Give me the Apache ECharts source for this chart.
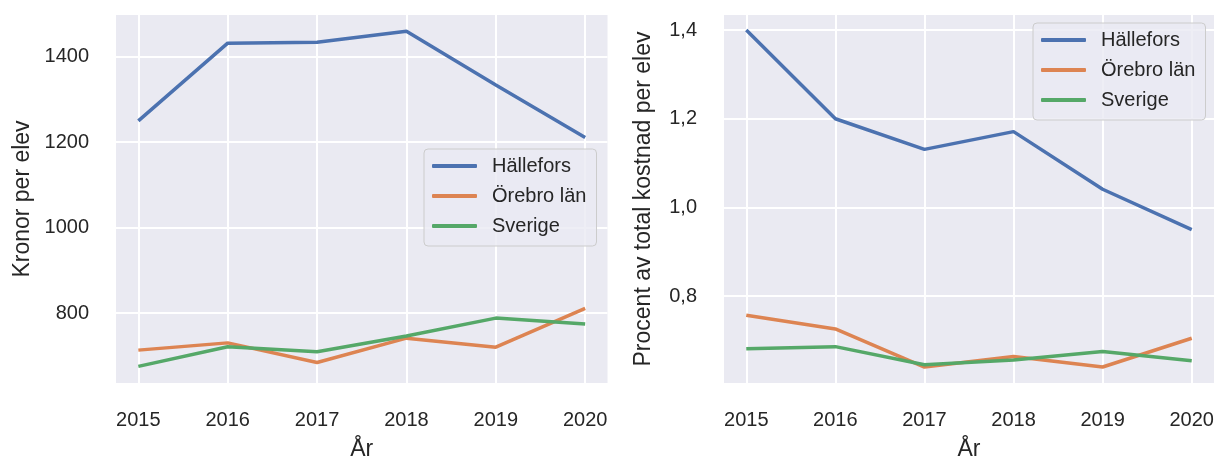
<!DOCTYPE html>
<html style="height: 100%; margin: 0; padding: 0;">
<head>
    <meta charset="utf-8">
    <title>Kostnad per elev</title>
    <script src="https://cdn.jsdelivr.net/npm/echarts@6/dist/echarts.min.js"></script>
    <style>
        body, html {
            height: 100%;
            margin: 0;
            padding: 0;
            background-color: #ffffff;
        }
        #main {
            width: 1217px;
            height: 461px;
        }
    </style>
</head>
<body>
<div id="main"></div>
<script type="text/javascript">
    // data
    var years = [2015, 2016, 2017, 2018, 2019, 2020];
    var seriesNames = ['Hällefors', 'Örebro län', 'Sverige'];

    // left panel: kronor per elev
    var kronorHallefors = [1250, 1432, 1434, 1460, 1334, 1211];
    var kronorOrebro    = [713, 730, 684, 741, 720, 811];
    var kronorSverige   = [675, 721, 709, 746, 788, 774];
    var kronorTicks     = [800, 1000, 1200, 1400];

    // right panel: procent av total kostnad per elev
    var procentHallefors = [1.40, 1.20, 1.131, 1.171, 1.041, 0.95];
    var procentOrebro    = [0.757, 0.726, 0.640, 0.664, 0.640, 0.705];
    var procentSverige   = [0.681, 0.686, 0.645, 0.656, 0.675, 0.654];
    var procentTicks     = [0.8, 1.0, 1.2, 1.4];

    var colors = ['#4c72b0', '#dd8452', '#55a868'];
    var textColor = '#262626';
    var fontFamily = 'Liberation Sans, Arial, sans-serif';

    var myChart = echarts.init(document.getElementById('main'), null, { renderer: 'canvas' });

    function pairs(vals) {
        return years.map(function (y, i) { return [y, vals[i]]; });
    }

    function xAxis(gridIndex) {
        return {
            type: 'value',
            gridIndex: gridIndex,
            min: 2014.75,
            max: 2020.25,
            name: 'År',
            nameLocation: 'middle',
            nameGap: 55,
            nameTextStyle: { color: textColor, fontSize: 23, fontFamily: fontFamily },
            axisLine: { show: false },
            axisTick: { show: false, customValues: years },
            axisLabel: {
                customValues: years,
                formatter: function (v) { return String(v); },
                color: textColor, fontSize: 20, fontFamily: fontFamily, margin: 27
            },
            splitLine: { show: true, lineStyle: { color: '#ffffff', width: 2 } }
        };
    }

    function yAxis(gridIndex, name, min, max, ticks, fmt, gap) {
        return {
            type: 'value',
            gridIndex: gridIndex,
            min: min,
            max: max,
            name: name,
            nameLocation: 'middle',
            nameGap: gap,
            nameTextStyle: { color: textColor, fontSize: 23, fontFamily: fontFamily },
            axisLine: { show: false },
            axisTick: { show: false, customValues: ticks },
            axisLabel: {
                customValues: ticks,
                formatter: fmt,
                color: textColor, fontSize: 20, fontFamily: fontFamily, margin: 27
            },
            splitLine: { show: true, lineStyle: { color: '#ffffff', width: 2 } }
        };
    }

    function lineSeries(name, idx, axisIndex, vals) {
        return {
            type: 'line',
            name: name,
            xAxisIndex: axisIndex,
            yAxisIndex: axisIndex,
            data: pairs(vals),
            showSymbol: false,
            symbol: 'none',
            color: colors[idx],
            lineStyle: { width: 3.5, color: colors[idx] },
            animation: false
        };
    }

    function legend(pos) {
        return {
            left: pos.left,
            top: pos.top,
            orient: 'vertical',
            data: seriesNames.map(function (n) { return { name: n, icon: 'roundRect' }; }),
            itemWidth: 45,
            itemHeight: 4,
            itemGap: 10,
            padding: [7, 10, 10, 8],
            backgroundColor: 'rgba(234,234,242,0.8)',
            borderColor: '#cccccc',
            borderWidth: 1,
            borderRadius: 4,
            textStyle: { color: textColor, fontSize: 20, fontFamily: fontFamily, padding: [0, 0, 0, 10] }
        };
    }

    var option = {
        animation: false,
        grid: [
            { left: 116, top: 15, width: 491.5, height: 368, show: true, backgroundColor: '#eaeaf2',
              borderWidth: 0, outerBoundsMode: 'none', containLabel: false },
            { left: 724, top: 15, width: 490, height: 368, show: true, backgroundColor: '#eaeaf2',
              borderWidth: 0, outerBoundsMode: 'none', containLabel: false }
        ],
        xAxis: [xAxis(0), xAxis(1)],
        yAxis: [
            yAxis(0, 'Kronor per elev', 636, 1498, kronorTicks, function (v) { return String(v); }, 82),
            yAxis(1, 'Procent av total kostnad per elev', 0.604, 1.434, procentTicks,
                function (v) { return v.toFixed(1).replace('.', ','); }, 69)
        ],
        legend: [legend({ left: 424, top: 149 }), legend({ left: 1033, top: 23 })],
        series: [
            lineSeries(seriesNames[0], 0, 0, kronorHallefors),
            lineSeries(seriesNames[1], 1, 0, kronorOrebro),
            lineSeries(seriesNames[2], 2, 0, kronorSverige),
            lineSeries(seriesNames[0], 0, 1, procentHallefors),
            lineSeries(seriesNames[1], 1, 1, procentOrebro),
            lineSeries(seriesNames[2], 2, 1, procentSverige)
        ]
    };

    myChart.setOption(option);
</script>
</body>
</html>
